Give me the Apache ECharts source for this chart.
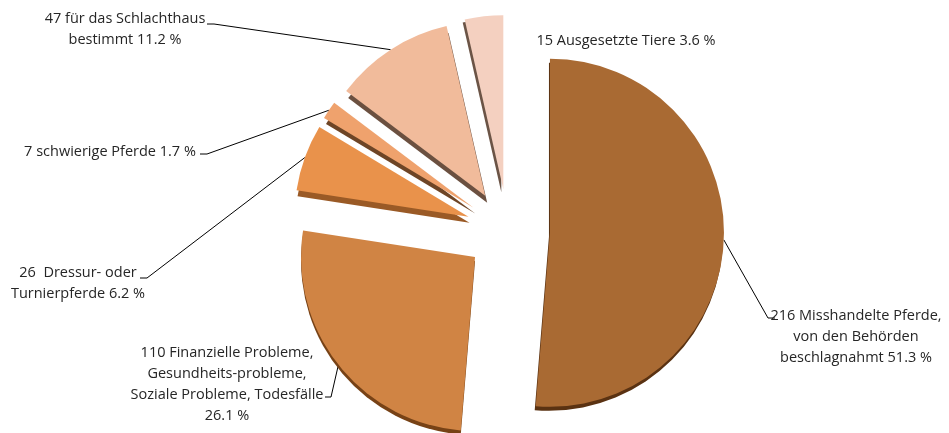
<!DOCTYPE html>
<html>
<head>
<meta charset="utf-8">
<script src="https://cdn.jsdelivr.net/npm/echarts@6/dist/echarts.min.js"></script>
<style>
  html, body { margin: 0; padding: 0; background: #ffffff; }
  #chart { width: 949px; height: 433px; }
</style>
</head>
<body>
<div id="chart"></div>
<script>
// Herkunft der Pferde (Anzahl je Kategorie)
const categories = [
  'Misshandelte Pferde,\nvon den Behörden\nbeschlagnahmt',
  'Finanzielle Probleme,\nGesundheits-probleme,\nSoziale Probleme, Todesfälle',
  ' Dressur- oder\nTurnierpferde',
  'schwierige Pferde',
  'für das Schlachthaus\nbestimmt',
  'Ausgesetzte Tiere'
];
const counts = [216, 110, 26, 7, 47, 15];
// text between the name and the percentage
const percentSeparators = [' ', '\n', ' ', ' ', ' ', ' '];

// slice colours and the colour of their visible side face
const sliceColors = ['#a96a33', '#d08444', '#e9924b', '#efa26d', '#f1bb9b', '#f4d0c0'];
const sideColors  = ['#5a3212', '#774216', '#9a5a26', '#6e4526', '#6b5040', '#6b5446'];
const sideOffsets = [[-1, 4], [0, 4], [1, 6], [2, 6], [2, 7], [-2, 3]];

// label anchor (block centre) and the short leader segment near the text
const labelSpots = [
  { x: 856, y: 337, tail: [[768, 318], [775, 318]] },
  { x: 227, y: 384, tail: [[331, 397], [325, 397]] },
  { x: 78,  y: 283, tail: [[147, 278], [140, 278]] },
  { x: 110, y: 152, tail: [[207, 154], [200, 154]] },
  { x: 125, y: 29,  tail: [[214, 24], [207, 24]] },
  { x: 626, y: 41,  tail: null }
];

const PIE_CENTER = [508, 231];
const PIE_RADIUS = 174;
const EXPLODE = 42;

const total = counts.reduce((a, b) => a + b, 0);

// exploded slices
const sliceData = counts.map((v, i) => ({
  value: v,
  name: categories[i],
  selected: true,
  itemStyle: {
    color: sliceColors[i],
    shadowColor: sideColors[i],
    shadowBlur: 0,
    shadowOffsetX: sideOffsets[i][0],
    shadowOffsetY: sideOffsets[i][1]
  }
}));

// label carrier: same values, outer edge lies on the exploded arcs
const labelData = counts.map((v, i) => ({
  value: v,
  name: categories[i],
  labelLine: { show: labelSpots[i].tail !== null }
}));

const chart = echarts.init(document.getElementById('chart'), null, { renderer: 'canvas' });

chart.setOption({
  animation: false,
  backgroundColor: '#ffffff',
  series: [{
    type: 'pie',
    center: PIE_CENTER,
    radius: [0, PIE_RADIUS],
    startAngle: 90,
    clockwise: true,
    selectedMode: 'multiple',
    selectedOffset: EXPLODE,
    emphasis: { disabled: true },
    label: { show: false },
    labelLine: { show: false },
    data: sliceData
  }, {
    type: 'pie',
    center: PIE_CENTER,
    radius: [0, PIE_RADIUS + EXPLODE],
    startAngle: 90,
    clockwise: true,
    silent: true,
    selectedMode: false,
    avoidLabelOverlap: false,
    minShowLabelAngle: 0,
    emphasis: { disabled: true },
    itemStyle: { color: 'rgba(0,0,0,0)' },
    label: {
      show: true,
      position: 'outside',
      color: '#262626',
      fontFamily: 'Open Sans',
      fontSize: 14.5,
      lineHeight: 21,
      align: 'center',
      formatter: function (p) {
        const pct = (p.value / total * 100).toFixed(1);
        return p.value + ' ' + p.name + percentSeparators[p.dataIndex] + pct + ' %';
      }
    },
    labelLine: {
      show: true,
      lineStyle: { color: '#000000', width: 1 }
    },
    labelLayout: function (params) {
      const spot = labelSpots[params.dataIndex];
      const out = { x: spot.x, y: spot.y, align: 'center', verticalAlign: 'middle' };
      if (spot.tail && params.labelLinePoints) {
        out.labelLinePoints = [params.labelLinePoints[0], spot.tail[0], spot.tail[1]];
      }
      return out;
    },
    data: labelData
  }]
});
</script>
</body>
</html>
